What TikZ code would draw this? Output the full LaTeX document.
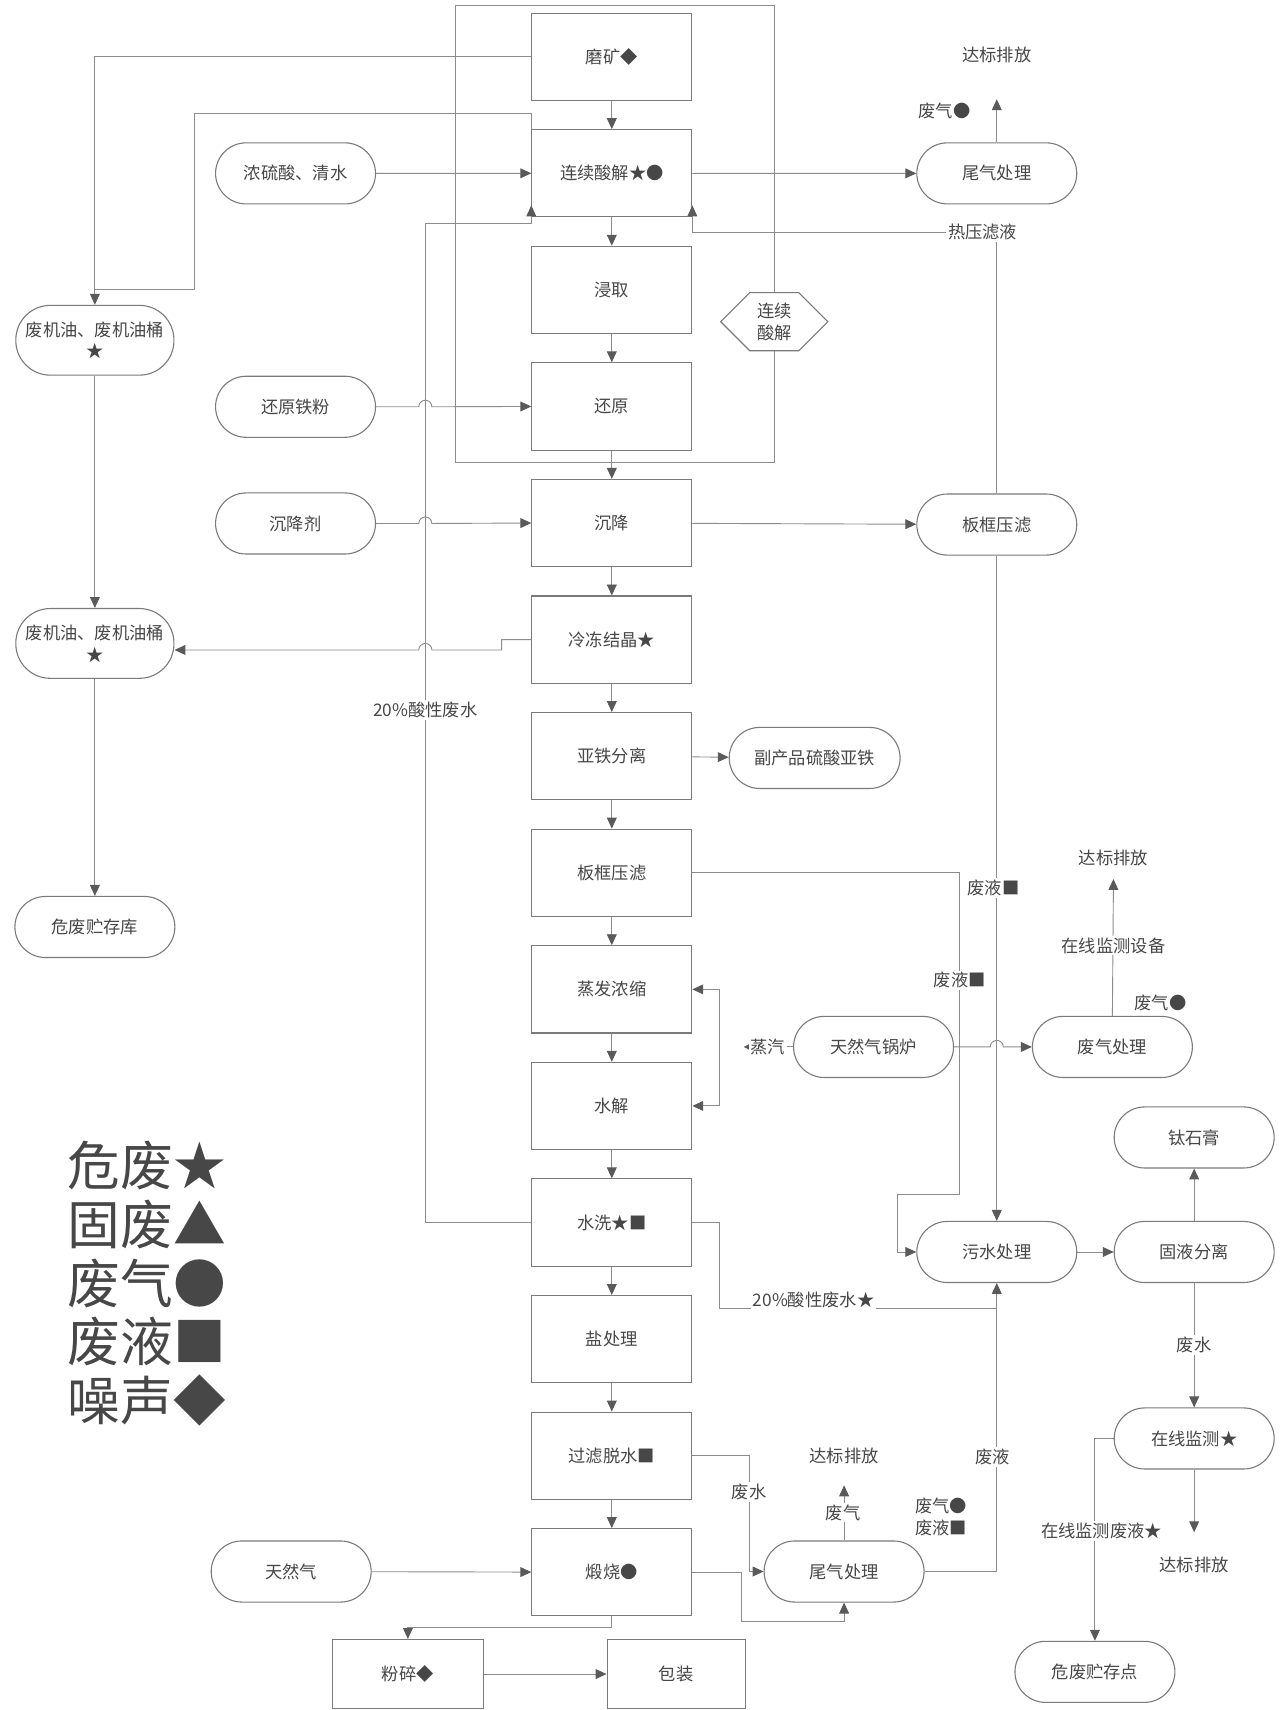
\documentclass[tikz,border=0pt]{standalone}
\usepackage{fontspec}
\setmainfont{Noto Sans CJK SC}
\usepackage{tikz}
\usetikzlibrary{positioning, calc, arrows.meta, shapes.symbols}
\newcommand{\rowStep}{106.9}
\definecolor{lineGray}{HTML}{8C8C8C}
\definecolor{boxGray}{HTML}{7A7A7A}
\definecolor{textGray}{HTML}{474747}
\definecolor{tipGray}{HTML}{5A5A5A}

\tikzset{
  proc/.style={draw=boxGray, line width=0.6pt, fill=white, minimum width=88pt, minimum height=48pt, inner sep=1pt},
  term/.style={draw=boxGray, line width=0.6pt, fill=white, rounded corners=16.8pt, minimum width=88pt, minimum height=33.6pt, inner sep=1pt, align=center},
  flow/.style={draw=lineGray, line width=0.5pt, -{Triangle[length=6pt,width=5.4pt,color=tipGray]}},
  wire/.style={draw=lineGray, line width=0.5pt},
  note/.style={fill=white, inner sep=1pt},
  legend/.style={font=\fontsize{29}{30}\selectfont, text=textGray, inner sep=0pt}
}

\begin{document}
\begin{tikzpicture}[x=0.6pt, y=-0.6pt, font=\fontsize{9.5}{12}\selectfont, text=textGray]
\useasboundingbox (0,0) rectangle (1178,1568);
\fill[white] (0,0) rectangle (1178,1568);

\draw[wire] (418,5) rectangle (710,424);

\foreach \n/\t [count=\i from 0] in {mokuang/磨矿◆, suanjie/连续酸解★●, jinqu/浸取, huanyuan/还原, chenjiang/沉降, lengdong/冷冻结晶★, yatie/亚铁分离, banjia/板框压滤, zhengfa/蒸发浓缩, shuijie/水解, shuixi/水洗★■, yanchuli/盐处理, guolv/过滤脱水■, duanshao/煅烧●}
  \node[proc] (\n) at (561,{52+\rowStep*\i}) {\t};

\node[signal, signal to=west and east, draw=boxGray, line width=0.6pt, fill=white, minimum width=59pt, minimum height=32pt, inner sep=1pt, align=center] (hexa) at (710,295) {连续\\酸解};

\node[proc, minimum width=83pt, minimum height=38pt] (crush) at (374,1535) {粉碎◆};
\node[proc, minimum width=76pt, minimum height=38pt] (pack) at (620,1535) {包装};

\node[term] (acid) at (271,159) {浓硫酸、清水};
\node[term] (tiefen) at (271,373) {还原铁粉};
\node[term] (chenjiangji) at (271,480) {沉降剂};
\node[term] (gas) at (267,1441) {天然气};
\node[term, minimum width=87pt, minimum height=38.4pt, rounded corners=19pt] (oil1) at (87,312) {废机油、废机油桶\\★};
\node[term, minimum width=87pt, minimum height=38.4pt, rounded corners=19pt] (oil2) at (87,590) {废机油、废机油桶\\★};
\node[term] (store1) at (87,850) {危废贮存库};

\node[term] (tail1) at (914,159) {尾气处理};
\node[term] (press2) at (914,481) {板框压滤};
\node[term, minimum width=94pt] (byprod) at (747,695) {副产品硫酸亚铁};
\node[term] (boiler) at (801,960) {天然气锅炉};
\node[term] (gastreat) at (1020,960) {废气处理};
\node[term] (gypsum) at (1095,1043) {钛石膏};
\node[term] (sewage) at (914,1148) {污水处理};
\node[term] (sep) at (1095,1148) {固液分离};
\node[term] (monitor) at (1095,1319) {在线监测★};
\node[term] (store2) at (1004,1533) {危废贮存点};
\node[term] (tail2) at (774,1441) {尾气处理};

\coordinate (j1) at (178,265);
\coordinate (acidTurn) at (390,205);
\coordinate (stepA) at (460,596);
\coordinate (wl1) at (880,1095);
\coordinate (wl2) at (823,1095);
\coordinate (steamBar) at (660,960);
\coordinate (steamTip) at (682,960);
\coordinate (acidJoin) at (660,1200);
\coordinate (fwTurn) at (687,1441);
\coordinate (slagTurn) at (680,1487);
\coordinate (out1) at (914,91);
\coordinate (out2) at (1021,806);
\coordinate (out3) at (774,1362);
\coordinate (out4) at (1095,1405);

\foreach \a/\b in {mokuang/suanjie, suanjie/jinqu, jinqu/huanyuan, huanyuan/chenjiang, chenjiang/lengdong, lengdong/yatie, yatie/banjia, banjia/zhengfa, zhengfa/shuijie, shuijie/shuixi, shuixi/yanchuli, yanchuli/guolv, guolv/duanshao}
  \draw[flow] (\a) -- (\b);

\draw[flow] (mokuang.west) -| (oil1.north);
\draw[wire] (suanjie.north west) -- ++(0,-14) -| (j1) -- (j1 -| oil1.north);
\draw[flow] (oil1) -- (oil2);
\draw[flow] (oil2) -- (store1);
\draw[flow] (acid) -- (suanjie);
\draw[flow] (shuixi.west) -| (acidTurn) -| ($(suanjie.south west)+(0,-11)$);
\draw[flow] (tiefen.east) -- ($(tiefen.east -| acidTurn)+(-6,0)$) arc[start angle=180, end angle=0, radius=3.6pt] -- (huanyuan.west);
\draw[flow] (chenjiangji.east) -- ($(chenjiangji.east -| acidTurn)+(-6,0)$) arc[start angle=180, end angle=0, radius=3.6pt] -- (chenjiang.west);
\draw[flow] (lengdong.west) -| (stepA) -- ($(stepA -| acidTurn)+(6,0)$) arc[start angle=0, end angle=180, radius=3.6pt] -- (stepA -| oil2.east);
\draw[flow] (gas) -- (duanshao);
\draw[flow] (duanshao.south) -- ++(0,10) -| (crush.north);
\draw[flow] (crush) -- (pack);

\draw[flow] (suanjie) -- (tail1);
\draw[flow] (tail1.north) -- (out1);
\draw[flow] (press2.north) |- ($(suanjie.south east)+(0,14)$) -- ($(suanjie.south east)+(0,-11)$);
\draw[flow] (chenjiang) -- (press2);
\draw[flow] (press2) -- (sewage);
\draw[flow] (yatie) -- (byprod);
\draw[flow] (banjia.east) -| (wl1) -- (wl2) |- (sewage.west);
\draw[{Triangle[length=6pt,width=5.4pt,color=tipGray]}-{Triangle[length=6pt,width=5.4pt,color=tipGray]}, wire] (zhengfa.east) -| (steamBar) |- (shuijie.east);
\draw[wire, -{Triangle[length=3.6pt,width=3.6pt,color=tipGray]}] (boiler.west) -- (steamTip);
\draw[flow] (boiler.east) -- ($(boiler.east -| press2)+(-6,0)$) arc[start angle=180, end angle=0, radius=3.6pt] -- (gastreat.west);
\draw[flow] (gastreat.north) -- (out2);
\draw[wire] (shuixi.east) -| (acidJoin) -- (acidJoin -| sewage.south);
\draw[flow] (guolv.east) -| (fwTurn) -- (tail2.west);
\draw[flow] (duanshao.east) -| (slagTurn) -| (tail2.south);
\draw[flow] (tail2.north) -- (out3);
\draw[flow] (tail2.east) -| (sewage.south);
\draw[flow] (sewage) -- (sep);
\draw[flow] (sep) -- (gypsum);
\draw[flow] (sep) -- (monitor);
\draw[flow] (monitor.south) -- (out4);
\draw[flow] (monitor.west) -| (store2.north);

\node (ok1) at (914,50) {达标排放};
\node (gas1) at (866,102) {废气●};
\node[note] (hotliq) at (901,213) {热压滤液};
\node[note] (acidwater) at (390,651) {20\%酸性废水};
\node[note] (liq1) at (911,814) {废液■};
\node (ok2) at (1021,787) {达标排放};
\node[note] (online) at (1021,867) {在线监测设备};
\node[note] (liq2) at (880,899) {废液■};
\node (gas2) at (1064,920) {废气●};
\node[note] (steam) at (704,960) {蒸汽};
\node[note] (acidwater2) at (746,1192) {20\%酸性废水★};
\node[note] (water1) at (1095,1233) {废水};
\node (ok3) at (774,1335) {达标排放};
\node[note] (liq3) at (910,1336) {废液};
\node[note] (water2) at (687,1368) {废水};
\node[note] (gas3) at (773,1387) {废气};
\node[align=left, inner sep=0pt] (gasliq) at (863,1391) {废气●\\废液■};
\node[note] (onlineliq) at (1010,1404) {在线监测废液★};
\node (ok4) at (1095,1435) {达标排放};

\foreach \t [count=\i from 0] in {危废★, 固废▲, 废气●, 废液■, 噪声◆}
  \node[legend, anchor=west] (key\i) at (62,{1069+53.8*\i}) {\t};
\end{tikzpicture}
\end{document}
